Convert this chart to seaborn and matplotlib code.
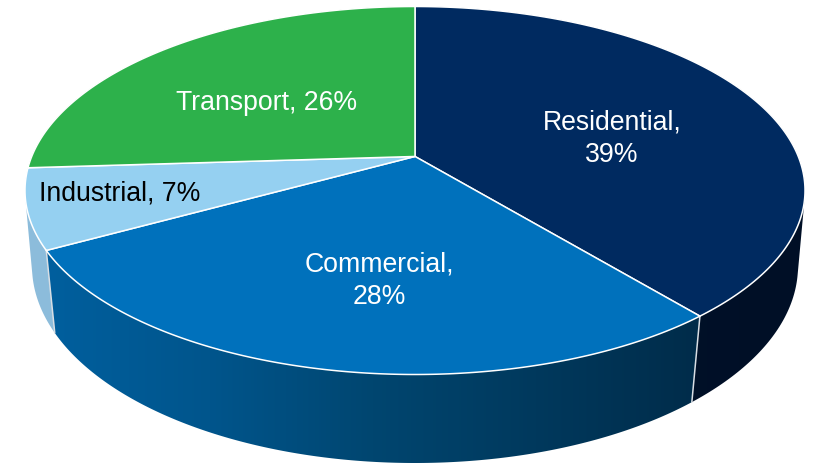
# 3D-Kreisdiagramm: Anteile nach Sektor
import numpy as np
import matplotlib
matplotlib.use("Agg")
import matplotlib.pyplot as plt
from matplotlib.patches import Polygon
import seaborn as sns

sectors = ["Residential", "Commercial", "Industrial", "Transport"]
shares = [39, 28, 7, 26]
label_texts = ["Residential,\n39%", "Commercial,\n28%", "Industrial, 7%", "Transport, 26%"]
top_colors = ["#002A60", "#0071BC", "#95D0F1", "#2DB14B"]
side_ramps = [
    ["#00132C", "#000F26"],
    ["#005F9E", "#00558C", "#004670", "#00395D", "#002C4A"],
    ["#8DBDDC", "#7FAFCF"],
    ["#1C7A33", "#1C7A33"],
]
text_colors = ["white", "white", "black", "white"]
text_pos = [(612, 139), (379, 281), (120, 194), (267, 103)]

sns.set_theme(style="white")
plt.rcParams["font.family"] = ["Liberation Sans", "DejaVu Sans"]

# Ellipsen der Ober- und Unterkante (cx, cy, rx, ry, Perspektive)
TOP = (415, 191.5, 390, 184, 0.185)
BOTTOM = (415, 267, 383, 197, 0.17)


def project(angle, rim):
    # Winkel im Uhrzeigersinn ab 12 Uhr -> Pixel, Kreismitte perspektivisch verschoben
    cx, cy, rx, ry, a = rim
    u, v = np.sin(angle), np.cos(angle)
    den = 1 + a * v
    return cx + rx * u * np.sqrt(1 - a ** 2) / den, cy - ry * (v + a) / den


def centre(rim):
    cx, cy, _, ry, a = rim
    return cx, cy - ry * a


def hull(points):
    # konvexe Huelle (monotone chain), ergibt die Silhouette der Seitenwand
    pts = sorted(set(map(tuple, points)))

    def half(seq):
        out = []
        for p in seq:
            while len(out) > 1 and ((out[-1][0] - out[-2][0]) * (p[1] - out[-2][1])
                                    - (out[-1][1] - out[-2][1]) * (p[0] - out[-2][0])) <= 0:
                out.pop()
            out.append(p)
        return out[:-1]

    return np.array(half(pts) + half(pts[::-1]))


fig = plt.figure(figsize=(8.16, 4.64), dpi=100)
ax = fig.add_axes([0, 0, 1, 1])

edges = np.deg2rad(np.cumsum([0] + shares) * 3.6)
cx0, cy0 = centre(TOP)

# Seitenwand zuerst, Farbverlauf entlang x; Commercial liegt vorne und zuletzt
for i in [3, 0, 2, 1]:
    ang = np.linspace(edges[i], edges[i + 1], 200)
    x_top, y_top = project(ang, TOP)
    x_bot, y_bot = project(ang, BOTTOM)
    shape = hull(np.r_[np.c_[x_top, y_top], np.c_[x_bot, y_bot], [[cx0, cy0]]])
    ramp = np.array(sns.blend_palette(side_ramps[i], n_colors=256))[:, :3]
    img = ax.imshow(ramp[np.newaxis, :, :], aspect="auto", interpolation="bilinear",
                    extent=(shape[:, 0].min(), shape[:, 0].max(), shape[:, 1].max(), shape[:, 1].min()),
                    zorder=1)
    img.set_clip_path(Polygon(shape, closed=True, transform=ax.transData))

ax.set_xlim(0, 816)
ax.set_ylim(464, 0)
ax.axis("off")

# sichtbare Kanten der Seitenwand
for angle in edges[1:3]:
    xa, ya = project(angle, TOP)
    xb, yb = project(angle, BOTTOM)
    ax.plot([xa, xb], [ya, yb], color="#D8DEE4", lw=1.1, zorder=2)

# Deckflaeche
for i in range(len(shares)):
    ang = np.linspace(edges[i], edges[i + 1], 200)
    x_rim, y_rim = project(ang, TOP)
    ax.fill(np.r_[cx0, x_rim], np.r_[cy0, y_rim], facecolor=top_colors[i],
            edgecolor="white", lw=1.1, joinstyle="round", zorder=3)

for label, col, (tx, ty) in zip(label_texts, text_colors, text_pos):
    ax.text(tx, ty, label, color=col, fontsize=19.2, ha="center", va="center",
            multialignment="center", linespacing=1.33, zorder=4)

plt.savefig("out.png", dpi=100)
plt.close()
